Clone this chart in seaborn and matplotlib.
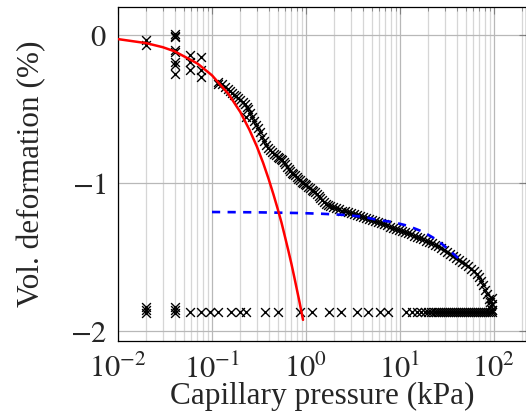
import numpy as np
import pandas as pd
import matplotlib
matplotlib.use("Agg")
import matplotlib.pyplot as plt
import seaborn as sns
from matplotlib.ticker import LogLocator, FixedLocator, NullFormatter

# ---------------- data ----------------
# Experimental points: wetting/loading path (capillary pressure in kPa, vol. deformation in %)
exp_start_p = [0.02, 0.02, 0.04, 0.04, 0.04, 0.04, 0.04, 0.04, 0.04, 0.04,
               0.058, 0.058, 0.058, 0.077, 0.077, 0.077, 0.116, 0.116]
exp_start_d = [-0.03, -0.07, 0.005, -0.005, -0.012, -0.10, -0.113, -0.18, -0.20, -0.26,
               -0.135, -0.18, -0.236, -0.147, -0.236, -0.282, -0.315, -0.33]

exp_load_p = [0.128, 0.138, 0.148, 0.155, 0.163, 0.171, 0.180, 0.190, 0.199, 0.214,
              0.224, 0.233, 0.242, 0.254, 0.230, 0.267, 0.280, 0.294, 0.308, 0.324,
              0.340, 0.357, 0.375, 0.394, 0.414, 0.434, 0.457, 0.480, 0.498, 0.516,
              0.536, 0.556, 0.577, 0.598, 0.628, 0.652, 0.676, 0.702, 0.728, 0.765,
              0.802, 0.832, 0.863, 0.896, 0.929, 0.964, 1.00, 1.05, 1.10, 1.145,
              1.19, 1.25, 1.31, 1.36, 1.41, 1.48, 1.55, 1.63, 1.71,
              1.800, 1.938, 2.085, 2.244, 2.415, 2.600, 2.798, 3.012, 3.242, 3.488,
              3.754, 4.041, 4.349, 4.681, 5.038, 5.420, 5.834, 6.280, 6.758, 7.274,
              7.828, 8.425, 9.067, 9.759, 10.50, 11.30, 12.17, 13.09, 14.09, 15.17,
              16.33, 17.57, 18.91, 20.35, 21.90, 23.57, 25.37, 27.31, 29.39, 31.62,
              34.04, 36.63, 39.42, 42.44, 45.67, 49.15, 52.90, 56.93, 61.27, 65.94,
              69.25, 72.73, 76.38, 80.21, 84.24, 88.47, 90.66, 92.91, 95.21,
              95.2, 95.2, 95.2]
exp_load_d = [-0.331, -0.348, -0.365, -0.378, -0.392, -0.402, -0.412, -0.426, -0.439, -0.453,
              -0.466, -0.483, -0.50, -0.527, -0.554, -0.554, -0.581, -0.608, -0.628, -0.655,
              -0.689, -0.716, -0.743, -0.764, -0.778, -0.791, -0.801, -0.811, -0.821, -0.831,
              -0.838, -0.845, -0.858, -0.872, -0.892, -0.905, -0.919, -0.929, -0.939, -0.949,
              -0.959, -0.970, -0.980, -0.990, -1.000, -1.007, -1.014, -1.024, -1.034, -1.044,
              -1.054, -1.064, -1.074, -1.088, -1.101, -1.115, -1.128, -1.139, -1.149,
              -1.155, -1.162, -1.169, -1.176, -1.186, -1.191, -1.197, -1.203, -1.209, -1.216,
              -1.223, -1.230, -1.236, -1.243, -1.250, -1.257, -1.264, -1.272, -1.280, -1.287,
              -1.295, -1.302, -1.309, -1.318, -1.325, -1.332, -1.341, -1.348, -1.355, -1.364,
              -1.372, -1.380, -1.390, -1.399, -1.408, -1.417, -1.426, -1.438, -1.452, -1.465,
              -1.478, -1.491, -1.505, -1.518, -1.532, -1.547, -1.561, -1.578, -1.597, -1.615,
              -1.635, -1.662, -1.689, -1.720, -1.753, -1.787, -1.804, -1.831, -1.858,
              -1.78, -1.82, -1.86]

# Experimental points: unloading path (bottom row)
exp_unload_p = [0.02, 0.02, 0.02, 0.04, 0.04, 0.04, 0.058, 0.0764, 0.095, 0.116,
                0.159, 0.199, 0.230, 0.366, 0.504, 0.863, 1.158, 1.757, 2.356, 3.49,
                4.57, 6.13, 7.45, 11.6, 13.4, 15.2, 16.7, 18.3, 19.9, 21.4,
                23.0, 24.2, 25.4, 26.7, 28.0, 29.4, 30.9, 32.4, 34.0, 35.7,
                37.5, 39.4, 41.4, 43.5, 45.7, 48.0, 50.4, 52.9, 55.6, 58.4,
                61.3, 64.4, 67.6, 71.0, 74.5, 78.3, 82.2, 86.3, 90.6, 95.2]
exp_unload_d = [-1.84, -1.86, -1.88, -1.84, -1.86, -1.88] + [-1.87] * 54

# Model curves
red_p = [0.01, 0.02, 0.03, 0.04, 0.07, 0.1, 0.15, 0.2, 0.25, 0.3,
         0.35, 0.4, 0.45, 0.5, 0.55, 0.6, 0.65, 0.7, 0.75, 0.8, 0.85, 0.93]
red_d = [-0.027, -0.0544, -0.0819, -0.1096, -0.192, -0.272, -0.399, -0.52, -0.64, -0.753,
         -0.864, -0.972, -1.076, -1.175, -1.27, -1.368, -1.459, -1.547, -1.635, -1.72,
         -1.80, -1.925]

blue_p = [0.1, 0.3, 0.863, 1.5, 2.60, 4.04, 5.83, 8.43, 12.2, 17.6, 24.8, 32.4, 41.4, 46.8]
blue_d = [-1.196, -1.198, -1.203, -1.208, -1.216, -1.228, -1.25, -1.264, -1.29, -1.33,
          -1.385, -1.446, -1.507, -1.54]

x_major = [1e-2, 1e-1, 1e0, 1e1, 1e2]
y_major = [0, -1, -2]

# ---------------- plotting ----------------
sns.set_theme(style="white")
plt.rcParams["font.family"] = "serif"
plt.rcParams["font.serif"] = ["Liberation Serif", "DejaVu Serif"]
plt.rcParams["mathtext.fontset"] = "stix"
plt.rcParams["axes.unicode_minus"] = True

exp_df = pd.DataFrame({
    "p": exp_start_p + exp_load_p + exp_unload_p,
    "d": exp_start_d + exp_load_d + exp_unload_d,
})
red_df = pd.DataFrame({"p": red_p, "d": red_d})
blue_df = pd.DataFrame({"p": blue_p, "d": blue_d})

fig = plt.figure(figsize=(5.26, 4.20), dpi=100)
ax = fig.add_axes([118 / 526, (420 - 341) / 420, (525.5 - 118) / 526, (341 - 7) / 420])
ax.set_xscale("log")

ax.set_axisbelow(True)
ax.grid(which="major", axis="both", color="#b8b8b8", lw=0.9)
ax.grid(which="minor", axis="x", color="#d6d6d6", lw=0.9)

sns.scatterplot(data=exp_df, x="p", y="d", ax=ax, marker="x", color="black",
                s=40, linewidth=1.0, zorder=3, legend=False)
sns.lineplot(data=blue_df, x="p", y="d", ax=ax, color="#0000ff", lw=1.9,
             sort=False, estimator=None, zorder=4, legend=False)
ax.lines[-1].set_dashes([3.1, 2.8])
sns.lineplot(data=red_df, x="p", y="d", ax=ax, color="#ff0000", lw=1.8,
             sort=False, estimator=None, zorder=5, legend=False)

ax.set_xlim(1e-2, 10 ** (2 + (525.5 - 494) / 94))
ax.set_ylim(-2.068, 0.19)

ax.xaxis.set_major_locator(FixedLocator(x_major))
ax.xaxis.set_minor_locator(LogLocator(base=10, subs=np.arange(2, 10)))
ax.xaxis.set_minor_formatter(NullFormatter())
ax.yaxis.set_major_locator(FixedLocator(y_major))
ax.set_xticklabels([r"$10^{-2}$", r"$10^{-1}$", r"$10^{0}$", r"$10^{1}$", r"$10^{2}$"])
ax.set_yticklabels(["$0$", "$-1$", "$-2$"])

ax.tick_params(which="both", direction="in", top=True, right=True, color="#808080")
ax.tick_params(which="major", length=5, width=0.8, labelsize=22)
ax.tick_params(axis="x", which="major", pad=10)
ax.tick_params(axis="y", which="major", pad=8)
ax.tick_params(which="minor", length=3, width=0.6)
for sp in ax.spines.values():
    sp.set_color("black")
    sp.set_linewidth(0.9)

ax.set_xlabel("Capillary pressure (kPa)", fontsize=22.5, labelpad=-2)
ax.set_ylabel("Vol. deformation (%)", fontsize=22.5, labelpad=17)

fig.savefig("out.png", dpi=100)
